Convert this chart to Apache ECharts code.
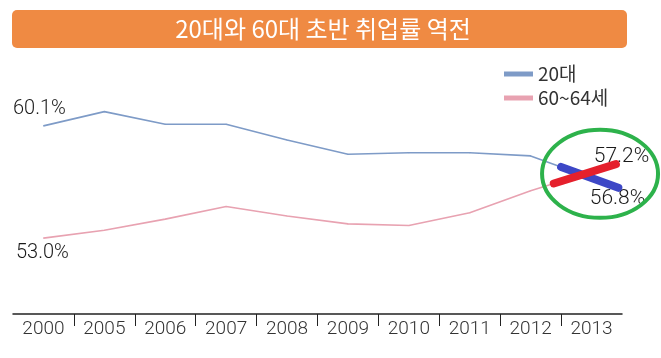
<!DOCTYPE html>
<html><head><meta charset="utf-8">
<script src="https://cdn.jsdelivr.net/npm/echarts@6/dist/echarts.min.js"></script>
<style>html,body{margin:0;padding:0;background:#fff}#c{width:661px;height:358px}</style>
</head><body><div id="c"></div>
<script>
const titleText = '20대와 60대 초반 취업률 역전';
const categories = ['2000','2005','2006','2007','2008','2009','2010','2011','2012','2013'];
const seriesNames = ['20대', '60~64세'];
const twenties = [60.1, 61.0, 60.2, 60.2, 59.2, 58.3, 58.4, 58.4, 58.2, 56.8];
const sixties  = [53.0, 53.5, 54.2, 55.0, 54.4, 53.9, 53.8, 54.6, 56.0, 57.2];

const blue = '#7e9bc7', pink = '#e8a2b1';
const font = 'Roboto, Liberation Sans, Arial, sans-serif';
const krFont = 'Noto Sans CJK KR, sans-serif';

function labelled(vals, firstOffset, lastOffset) {
  return vals.map((v, i) => {
    if (i === 0 || i === vals.length - 1) {
      return { value: v, label: { show: true, position: 'inside',
        offset: i === 0 ? firstOffset : lastOffset,
        formatter: p => p.value.toFixed(1) + '%',
        fontSize: i === 0 ? 20 : 21, fontFamily: font, fontWeight: 300, color: '#1a1a1a' } };
    }
    return v;
  });
}

const chart = echarts.init(document.getElementById('c'), null, {renderer: 'canvas'});
const option = {
  animation: false,
  backgroundColor: '#fff',
  grid: { left: 13, right: 39, top: 80, bottom: 44, outerBoundsMode: 'none', containLabel: false },
  legend: {
    orient: 'vertical', left: 504, top: 64, padding: 0, itemWidth: 29, itemHeight: 5, itemGap: 4,
    icon: 'rect',
    textStyle: { fontSize: 19, lineHeight: 20, color: '#333', fontFamily: krFont },
    data: seriesNames
  },
  xAxis: [{
    type: 'category', data: categories, boundaryGap: true,
    axisLine: { lineStyle: { color: '#222', width: 1.5 } },
    axisTick: { show: false },
    axisLabel: { fontSize: 19, color: '#333', fontFamily: font, fontWeight: 300, margin: 6, interval: 0 },
    splitLine: { show: false }
  }, {
    type: 'value', position: 'bottom', min: 0, max: 10, interval: 10,
    axisLine: { show: false }, axisLabel: { show: false }, axisTick: { show: false },
    splitLine: { show: false },
    minorTick: { show: true, splitNumber: 10, length: 12, lineStyle: { color: '#222', width: 1 } },
    minorSplitLine: { show: false }
  }],
  yAxis: { type: 'value', min: 48.2, max: 63, show: false, splitLine: { show: false } },
  series: [{
    name: seriesNames[0], type: 'line', data: labelled(twenties, [-4, -17], [26, 21]),
    symbol: 'circle', symbolSize: 1, showSymbol: true,
    lineStyle: { color: blue, width: 1.6 }, itemStyle: { color: blue }
  }, {
    name: seriesNames[1], type: 'line', data: labelled(sixties, [-1, 15], [30, -15]),
    symbol: 'circle', symbolSize: 1, showSymbol: true,
    lineStyle: { color: pink, width: 1.6 }, itemStyle: { color: pink }
  }]
};
chart.setOption(option);

function pt(i, v) { return chart.convertToPixel({seriesIndex: 0}, [categories[i], v]); }
function along(vals, t) {
  const n = vals.length;
  const a = pt(n - 2, vals[n - 2]), b = pt(n - 1, vals[n - 1]);
  return [a[0] + (b[0] - a[0]) * t, a[1] + (b[1] - a[1]) * t];
}
const n = categories.length;
const b0 = along(twenties, 0.5), b1 = along(twenties, 1.44);
const r0 = along(sixties, 0.38), r1 = along(sixties, 1.4);
const mid = pt(n - 1, (twenties[n - 1] + sixties[n - 1]) / 2);

chart.setOption({
  graphic: [
    { type: 'rect', left: 12, top: 10, shape: { width: 615, height: 38, r: 5 },
      style: { fill: '#ef8a43' }, z: 100 },
    { type: 'text', x: 323, y: 29, z: 101,
      style: { text: titleText, fill: '#fff', font: '24px ' + krFont, align: 'center', verticalAlign: 'middle' } },
    { type: 'line', z: 100, shape: { x1: b0[0], y1: b0[1], x2: b1[0], y2: b1[1] },
      style: { stroke: '#3d47c6', lineWidth: 8, lineCap: 'round' } },
    { type: 'line', z: 101, shape: { x1: r0[0], y1: r0[1], x2: r1[0], y2: r1[1] },
      style: { stroke: '#e5202c', lineWidth: 8, lineCap: 'round' } },
    { type: 'ellipse', z: 102, shape: { cx: mid[0] + 8.5, cy: mid[1] - 1, rx: 58, ry: 44 },
      style: { fill: 'none', stroke: '#2db24b', lineWidth: 4 } }
  ]
});
</script></body></html>
